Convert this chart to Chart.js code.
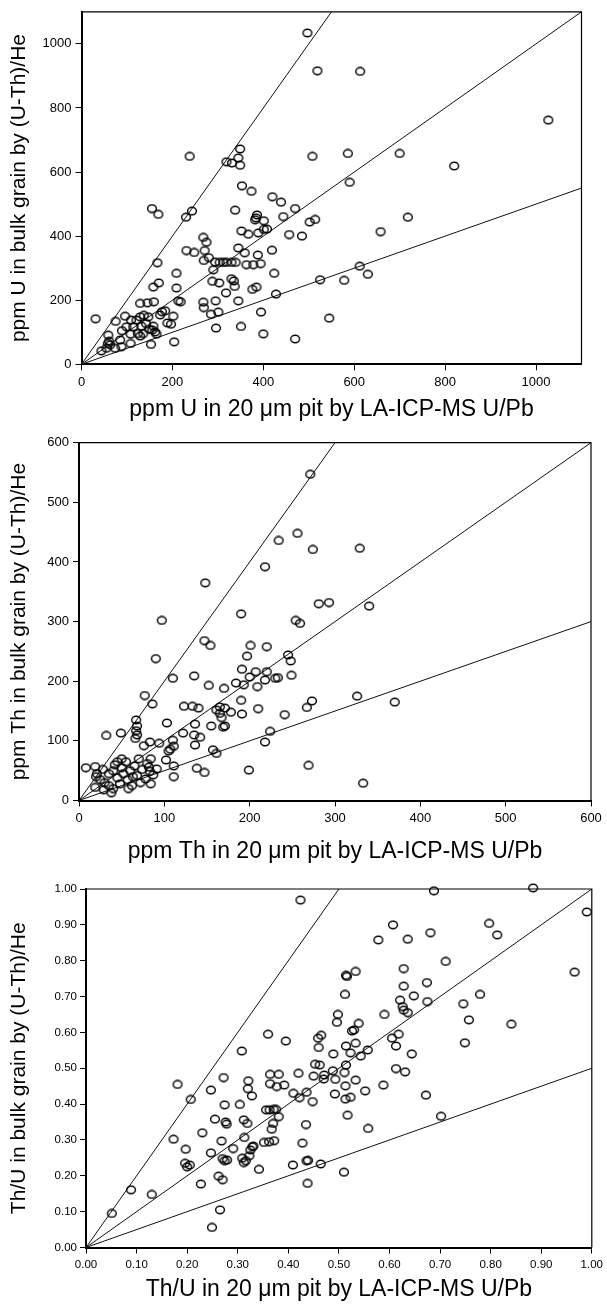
<!DOCTYPE html>
<html>
<head>
<meta charset="utf-8">
<script src="https://cdn.jsdelivr.net/npm/chart.js@4.4.0/dist/chart.umd.min.js"></script>
<style>
    html, body { margin: 0; padding: 0; background: #fff; }
    .panel { position: absolute; left: 0; width: 607px; }
</style>
</head>
<body>
<div class="panel" style="top:0;height:428px"><canvas id="UChart"></canvas></div>
<div class="panel" style="top:428px;height:437px"><canvas id="ThChart"></canvas></div>
<div class="panel" style="top:865px;height:444px"><canvas id="RatioChart"></canvas></div>
<script>
//ppm U: [20 um pit by LA-ICP-MS, bulk grain by (U-Th)/He]
const uPoints = [
    [497,1034],[519,916],[613,914],[1027,762],[238,649],[349,672],[345,644],[319,632],[331,628],[349,621],
    [508,649],[586,658],[700,658],[820,619],[590,568],[353,557],[374,540],
    [155,486],[169,468],[243,478],[230,459],[338,481],[420,523],[439,506],[470,486],[386,466],[384,457],
    [382,451],[401,448],[444,461],[502,444],[514,452],[352,416],[367,406],[389,410],[401,421],[408,422],
    [457,405],[485,400],[268,396],[275,381],[231,355],[248,349],[271,355],[269,324],[280,333],[345,363],
    [359,348],[388,341],[419,356],[167,317],[158,241],[170,254],[209,284],[209,238],[290,295],[294,319],
    [304,318],[312,318],[319,318],[330,318],[339,318],[363,311],[378,311],[394,314],[288,259],[303,254],
    [330,267],[335,260],[337,243],[318,223],[345,198],[376,234],[385,241],[424,284],[428,219],[525,264],
    [545,144],[268,194],[269,177],[295,198],[285,156],[301,163],[296,113],[351,118],[395,163],[400,95],
    [470,79],[204,70],[31,142],[75,134],[59,91],[718,459],[658,414],[612,306],[630,281],[578,262],
    [89,105],[96,150],[129,190],[145,192],[159,195],[177,164],[184,167],[173,154],[202,150],[189,129],
    [197,125],[213,198],[218,195],[109,138],[121,138],[129,148],[137,153],[147,148],[142,127],[132,119],
    [114,117],[99,117],[108,94],[124,96],[136,96],[149,109],[158,119],[156,107],[162,101],[165,94],
    [153,62],[108,65],[129,88],[85,76],[88,55],[74,50],[44,42],[61,72],[58,65],[63,61],[55,50]
];

//ppm Th
const thPoints = [
    [271,547],[256,448],[234,436],[274,421],[218,392],[148,365],[97,302],[190,313],[281,330],[293,332],
    [254,302],[259,297],[329,423],[340,326],[326,175],[370,165],[333,29],
    [147,268],[154,260],[90,238],[201,260],[220,258],[197,242],[245,244],[248,234],[191,220],[207,216],
    [220,216],[200,207],[193,194],[184,197],[209,191],[218,202],[230,205],[233,206],[249,210],[110,205],
    [135,209],[152,193],[170,188],[77,176],[86,162],[123,158],[133,158],[140,155],[161,152],[165,157],
    [171,155],[178,148],[165,146],[167,139],[171,125],[169,123],[191,145],[190,168],[210,154],[241,144],
    [267,156],[273,167],[67,135],[68,125],[67,117],[68,110],[66,104],[103,130],[32,109],[49,113],
    [94,96],[83,98],[76,92],[110,101],[111,91],[107,86],[105,83],[122,113],[136,128],[135,110],
    [142,106],[136,93],[155,125],[157,85],[161,79],[224,116],[218,98],[269,59],[199,51],[138,54],
    [147,47],[111,40],[111,58],[102,68],[84,70],[80,62],[82,56],[83,49],[78,36],[84,28],
    [91,53],[87,43],[8,55],[19,57],[21,45],[20,40],[19,22],[29,18],[38,13],
    [25,35],[30,30],[35,45],[40,50],[42,60],[45,38],[48,28],[50,55],[52,45],[55,65],
    [57,35],[60,50],[62,25],[65,58],[68,42],[70,70],[72,30],[74,52],[45,65],[35,25],
    [58,20],[63,40],[40,20],[50,70],[28,52]
];

//Th/U
const ratioPoints = [
    [0.424,0.969],[0.360,0.595],[0.395,0.576],[0.459,0.584],[0.465,0.592],[0.460,0.558],[0.308,0.548],
    [0.688,0.995],[0.884,1.003],[0.990,0.936],[0.607,0.900],[0.578,0.858],[0.636,0.860],[0.681,0.878],
    [0.797,0.904],[0.813,0.872],[0.711,0.798],[0.533,0.770],[0.514,0.759],[0.516,0.756],[0.628,0.778],
    [0.966,0.768],[0.628,0.729],[0.674,0.739],[0.512,0.706],[0.648,0.702],[0.779,0.706],[0.621,0.690],
    [0.675,0.686],[0.746,0.680],[0.626,0.672],[0.628,0.662],[0.636,0.655],[0.590,0.650],[0.498,0.650],
    [0.496,0.628],[0.757,0.635],[0.841,0.623],[0.539,0.625],[0.526,0.604],[0.530,0.607],[0.618,0.595],
    [0.605,0.584],[0.613,0.562],[0.749,0.571],[0.533,0.570],[0.514,0.562],
    [0.557,0.551],[0.523,0.543],[0.543,0.534],[0.489,0.540],[0.644,0.540],[0.514,0.509],[0.613,0.499],
    [0.631,0.490],[0.462,0.509],[0.488,0.493],[0.471,0.481],[0.470,0.470],[0.493,0.469],[0.511,0.488],
    [0.533,0.467],[0.513,0.451],[0.588,0.453],[0.552,0.437],[0.492,0.428],[0.513,0.414],[0.523,0.419],
    [0.672,0.425],[0.517,0.369],[0.702,0.366],[0.558,0.332],[0.510,0.210],[0.464,0.233],
    [0.181,0.455],[0.207,0.413],[0.247,0.439],[0.272,0.474],[0.321,0.465],[0.320,0.443],[0.328,0.423],
    [0.304,0.399],[0.364,0.483],[0.381,0.483],[0.364,0.457],[0.377,0.449],[0.392,0.453],[0.420,0.486],
    [0.453,0.511],[0.450,0.478],[0.410,0.430],[0.422,0.418],[0.436,0.433],[0.448,0.407],[0.274,0.398],
    [0.255,0.358],[0.312,0.356],[0.319,0.346],[0.276,0.350],[0.278,0.344],[0.356,0.384],[0.363,0.384],
    [0.371,0.385],[0.376,0.385],[0.367,0.330],[0.370,0.346],[0.381,0.365],[0.435,0.343],[0.173,0.302],
    [0.197,0.274],[0.230,0.320],[0.268,0.297],[0.247,0.264],[0.291,0.276],[0.313,0.307],[0.329,0.281],
    [0.325,0.272],[0.331,0.283],[0.323,0.256],[0.352,0.293],[0.362,0.295],[0.372,0.298],[0.428,0.291],
    [0.196,0.235],[0.200,0.225],[0.205,0.230],[0.270,0.248],[0.274,0.242],[0.279,0.244],[0.309,0.249],
    [0.312,0.237],[0.316,0.242],[0.342,0.218],[0.409,0.230],[0.436,0.242],[0.439,0.243],[0.438,0.179],
    [0.262,0.199],[0.270,0.189],[0.227,0.177],[0.130,0.148],[0.089,0.161],[0.051,0.095],[0.265,0.105],
    [0.249,0.056]
];

//Reference lines run from the origin to these ends (2:1, 1:1, 1:2)
const uLineEnds = [[550,1100],[1100,1100],[1100,550]];
const thLineEnds = [[300,600],[600,600],[600,300]];
const ratioLineEnds = [[0.5,1],[1,1],[1,0.5]];

//Tick labels
const uTicks = [0,200,400,600,800,1000];
const thTicks = [0,100,200,300,400,500,600];
const ratioTicks = [0,0.1,0.2,0.3,0.4,0.5,0.6,0.7,0.8,0.9,1.0];

Chart.defaults.color = '#000';
Chart.defaults.font.family = "'Liberation Sans', Arial, sans-serif";
Chart.defaults.font.weight = 'normal';

//open ellipse used for every sample
function ellipseMark() {
    const c = document.createElement('canvas');
    c.width = 12;
    c.height = 10;
    const g = c.getContext('2d');
    g.strokeStyle = '#000';
    g.lineWidth = 1.4;
    g.beginPath();
    g.ellipse(6, 5, 4.4, 3.7, 0, 0, Math.PI * 2);
    g.stroke();
    return c;
}
const mark = ellipseMark();

//thin top and right edges of the plot frame
const framePlugin = {
    id: 'frame',
    afterDraw(chart) {
        const {ctx, chartArea: a} = chart;
        ctx.save();
        ctx.strokeStyle = '#000';
        ctx.lineWidth = 1.2;
        ctx.beginPath();
        ctx.moveTo(a.left, a.top);
        ctx.lineTo(a.right, a.top);
        ctx.lineTo(a.right, a.bottom);
        ctx.stroke();
        ctx.restore();
    }
};

function buildChart(id, points, lineEnds, max, ticks, xTitle, yTitle, box) {
    const datasets = lineEnds.map(function (end) {
        return {
            data: [{x: 0, y: 0}, {x: end[0], y: end[1]}],
            showLine: true,
            borderColor: '#111',
            borderWidth: 1,
            pointRadius: 0,
            order: 2
        };
    });
    datasets.push({
        data: points.map(p => ({x: p[0], y: p[1]})),
        pointStyle: mark,
        pointRadius: 5,
        clip: false,
        order: 1
    });

    const tickFont = {size: box.tickSize};
    const titleFont = {size: 23};
    const config = {
        type: 'scatter',
        data: {datasets: datasets},
        options: {
            responsive: true,
            maintainAspectRatio: false,
            animation: false,
            events: [],
            layout: {
                padding: {top: box.top, right: box.right, left: 0, bottom: 0}
            },
            plugins: {
                legend: {display: false},
                tooltip: {enabled: false}
            },
            scales: {
                x: {
                    type: 'linear',
                    min: 0,
                    max: max,
                    afterBuildTicks: (axis) => { axis.ticks = ticks.map(v => ({value: v})); },
                    afterFit: (axis) => { axis.height = box.xHeight; },
                    ticks: {
                        font: tickFont,
                        padding: box.xTickPad,
                        maxRotation: 0,
                        callback: box.fmt
                    },
                    grid: {drawOnChartArea: false, drawTicks: true, tickLength: 6, color: '#000'},
                    border: {color: '#000', width: 2},
                    title: {display: true, text: xTitle, font: titleFont, padding: {top: 0, bottom: box.xTitlePad}}
                },
                y: {
                    type: 'linear',
                    min: 0,
                    max: max,
                    afterBuildTicks: (axis) => { axis.ticks = ticks.map(v => ({value: v})); },
                    afterFit: (axis) => { axis.width = box.yWidth; },
                    ticks: {
                        font: tickFont,
                        padding: box.yTickPad,
                        callback: box.fmt
                    },
                    grid: {drawOnChartArea: false, drawTicks: true, tickLength: 6, color: '#000'},
                    border: {color: '#000', width: 2},
                    title: {display: true, text: yTitle, font: {size: box.yTitleSize}, padding: {top: box.yTitlePad, bottom: 0}}
                }
            }
        },
        plugins: [framePlugin]
    };
    return new Chart(document.getElementById(id), config);
}

const plainTick = (v) => String(v);
const ratioTick = (v) => v.toFixed(2);

buildChart('UChart', uPoints, uLineEnds, 1100, uTicks,
    'ppm U in 20 \u03bcm pit by LA-ICP-MS U/Pb', 'ppm U in bulk grain by (U-Th)/He',
    {top: 10, right: 25.5, yWidth: 81.5, xHeight: 63.7, tickSize: 13, xTickPad: 4, yTickPad: 4,
     xTitlePad: 4.2, yTitlePad: 7, yTitleSize: 21, fmt: plainTick});

buildChart('ThChart', thPoints, thLineEnds, 600, thTicks,
    'ppm Th in 20 \u03bcm pit by LA-ICP-MS U/Pb', 'ppm Th in bulk grain by (U-Th)/He',
    {top: 14.7, right: 16, yWidth: 79, xHeight: 64.5, tickSize: 13, xTickPad: 4, yTickPad: 4,
     xTitlePad: 0, yTitlePad: 7, yTitleSize: 21, fmt: plainTick});

buildChart('RatioChart', ratioPoints, ratioLineEnds, 1, ratioTicks,
    'Th/U in 20 \u03bcm pit by LA-ICP-MS U/Pb', 'Th/U in bulk grain by (U-Th)/He',
    {top: 24, right: 14, yWidth: 86, xHeight: 61.5, tickSize: 11.5, xTickPad: 4, yTickPad: 3,
     xTitlePad: 5.2, yTitlePad: 7, yTitleSize: 21, fmt: ratioTick});
</script>
</body>
</html>
